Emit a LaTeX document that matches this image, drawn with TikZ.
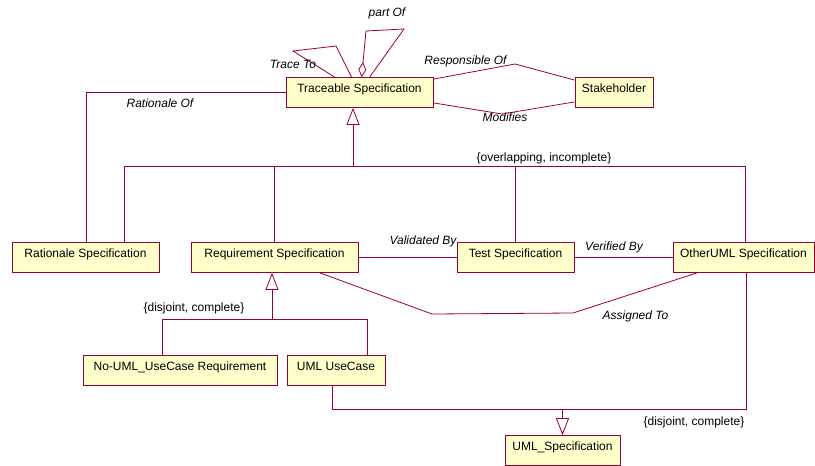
\documentclass[tikz,border=0pt]{standalone}
\usepackage{fontspec}
\setmainfont{Liberation Sans}
\usetikzlibrary{arrows.meta}

\definecolor{umlline}{RGB}{153,0,51}
\definecolor{umlfill}{RGB}{255,255,204}

\begin{document}
\begin{tikzpicture}[
        x=1pt, y=-1pt,
        line width=0.8pt,
        every node/.style={font=\fontsize{12}{14}\selectfont},
        cls/.style={draw=umlline, fill=umlfill, inner xsep=0pt, inner ysep=4pt,
            text height=11pt, text depth=11pt},
        rel/.style={draw=umlline},
        gen/.style={draw=umlline, -{Triangle[open, length=17pt, width=13pt]}},
        lbl/.style={inner sep=0pt, text height=8.6pt, text depth=0pt,
            font=\fontsize{12}{14}\selectfont\itshape},
        cons/.style={inner sep=0pt, text height=8.6pt, text depth=0pt}
    ]

        \useasboundingbox (0,0) rectangle (815,466);

        % Classes
        \node[cls, minimum width=147pt] (trace) at (359.5,92.5) {Traceable Specification};
        \node[cls, minimum width=78pt] (stake) at (614,92.5) {Stakeholder};
        \node[cls, minimum width=147pt] (ratio) at (85.5,257.5) {Rationale Specification};
        \node[cls, minimum width=167pt] (req) at (274.5,257.5) {Requirement Specification};
        \node[cls, minimum width=117pt] (test) at (515.5,257.5) {Test Specification};
        \node[cls, minimum width=141pt] (other) at (743.5,257.5) {OtherUML Specification};
        \node[cls, minimum width=194pt] (nouml) at (180,370.5) {No-UML\_UseCase Requirement};
        \node[cls, minimum width=98pt] (ucase) at (336,370.5) {UML UseCase};
        \node[cls, minimum width=115pt] (umlspec) at (562.5,450.5) {UML\_Specification};

        % Generalization of Traceable Specification
        \coordinate (tg) at (353,166);
        \coordinate (b1) at (124,166);
        \coordinate (b4) at (745,166);
        \draw[gen] (tg) -- (tg |- trace.south);
        \draw[rel] (b1 |- ratio.north) -- (b1) -- (b4) -- (b4 |- other.north);
        \draw[rel] (req.north) -- (req.north |- b1);
        \draw[rel] (test.north) -- (test.north |- b1);
        \node[cons] (ovl) at (544,157) {\{overlapping, incomplete\}};

        % Rationale Of
        \coordinate (ro) at (86,92.5);
        \draw[rel] (trace.west) -- (ro) -- (ro |- ratio.north);
        \node[lbl] (rolbl) at (160,103) {Rationale Of};

        % Trace To
        \coordinate (tt1) at (293,51);
        \coordinate (tt2) at (336,46);
        \draw[rel] ([xshift=49pt]trace.north west) -- (tt1) -- (tt2) -- ([xshift=66pt]trace.north west);
        \node[lbl] (ttlbl) at (293,64.5) {Trace To};

        % part Of
        \coordinate (po1) at (366,31);
        \coordinate (po2) at (404,29);
        \draw[rel, {Diamond[open, length=15pt, width=8pt]}-] ([xshift=76pt]trace.north west)
            -- (po1) -- (po2) -- ([xshift=84pt]trace.north west);
        \node[lbl] (polbl) at (387,12.5) {part Of};

        % Stakeholder
        \coordinate (rb) at (515,64);
        \coordinate (mb) at (502,114);
        \draw[rel] ([yshift=-2pt]trace.north east) -- (rb) -- ([yshift=-3pt]stake.north west);
        \draw[rel] ([yshift=5pt]trace.south east) -- (mb) -- ([yshift=6pt]stake.south west);
        \node[lbl] (rblbl) at (465.5,60) {Responsible Of};
        \node[lbl] (mblbl) at (505,117.5) {Modifies};

        % Validated / Verified
        \draw[rel] (req.east) -- (test.west);
        \draw[rel] (test.east) -- (other.west);
        \node[lbl] (vlbl) at (423,240) {Validated By};
        \node[lbl] (vflbl) at (614,246) {Verified By};

        % Assigned To
        \coordinate (as1) at (432,314);
        \coordinate (as2) at (573,313);
        \draw[rel] ([xshift=45.5pt]req.south) -- (as1) -- (as2) -- ([xshift=-46.5pt]other.south);
        \node[lbl] (aslbl) at (635.5,315) {Assigned To};

        % Generalization of Requirement Specification
        \coordinate (rg) at (272,319);
        \coordinate (rl) at (162,319);
        \coordinate (rr) at (367,319);
        \draw[gen] (rg) -- (rg |- req.south);
        \draw[rel] (rl |- nouml.north) -- (rl) -- (rr) -- (rr |- ucase.north);
        \node[cons] (djc1) at (194,307.5) {\{disjoint, complete\}};

        % Generalization of UML_Specification
        \coordinate (ul) at (332,409);
        \coordinate (ur) at (746,409);
        \draw[rel] (ul |- ucase.south) -- (ul) -- (ur) -- (ur |- other.south);
        \draw[gen] (umlspec.north |- ul) -- (umlspec.north);
        \node[cons] (djc2) at (694,421.5) {\{disjoint, complete\}};

    \end{tikzpicture}
\end{document}
